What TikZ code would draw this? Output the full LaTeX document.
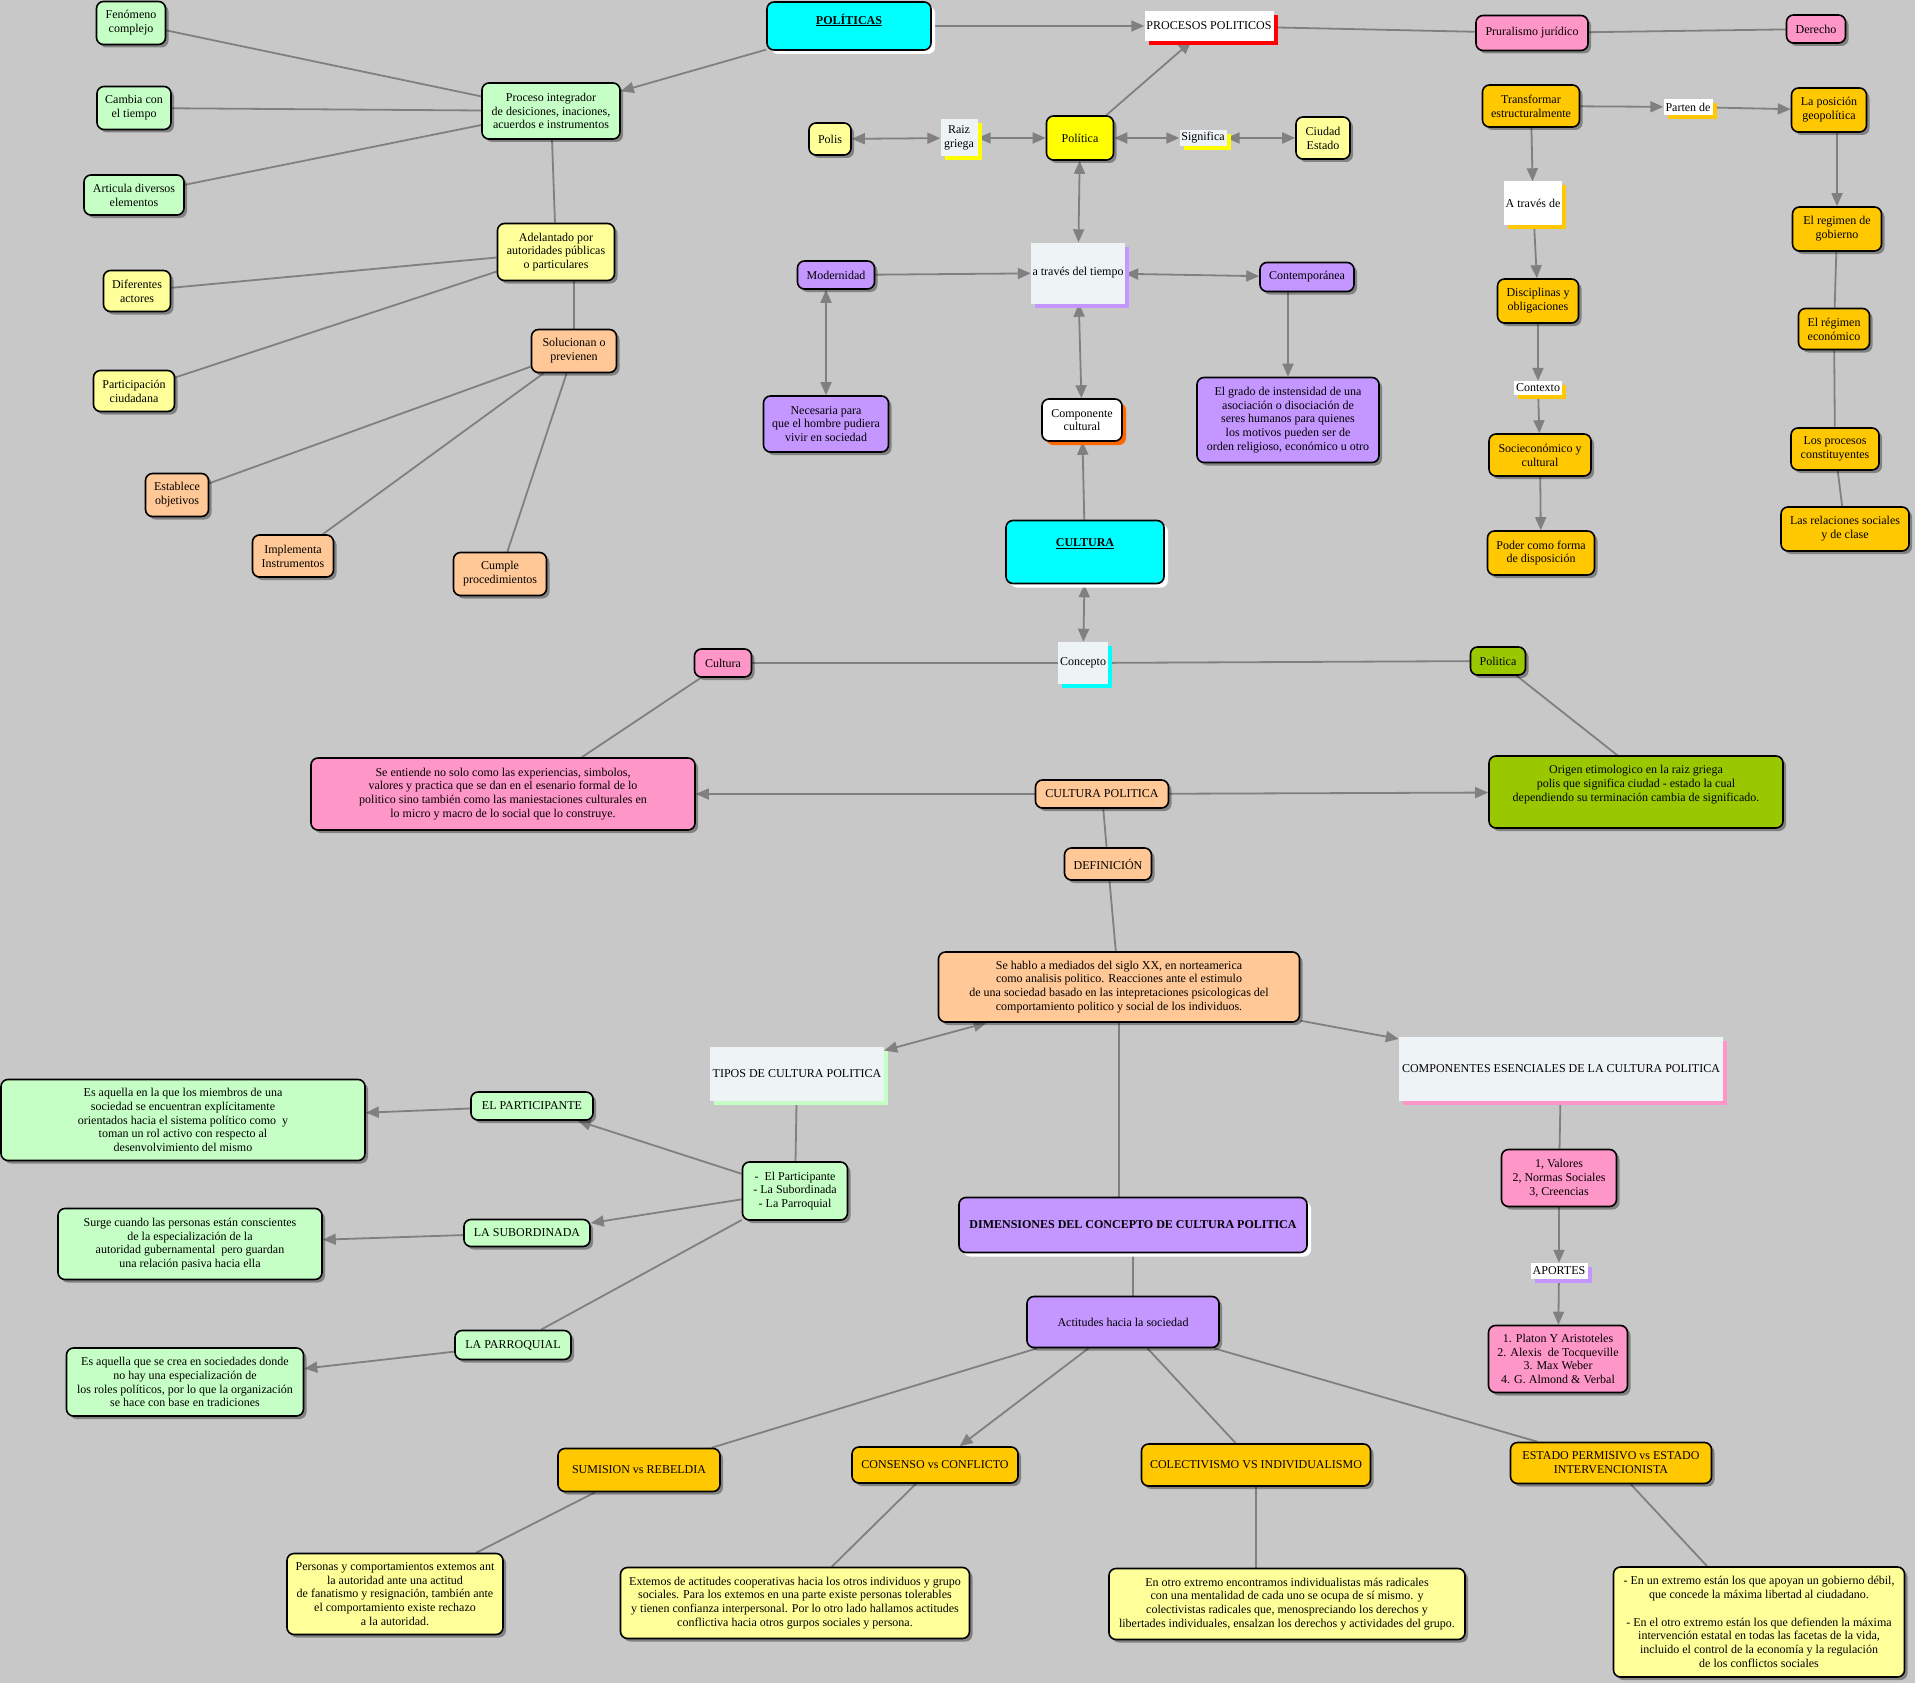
\documentclass[tikz,border=0pt]{standalone}
\usepackage{fontspec}
\setmainfont{Liberation Serif}
\usetikzlibrary{arrows.meta,shadows}
\definecolor{bgc}{RGB}{200,200,200}
\definecolor{lgreen}{RGB}{198,255,198}
\definecolor{lyellow}{RGB}{255,255,153}
\definecolor{peach}{RGB}{255,200,150}
\definecolor{cyanc}{RGB}{0,255,255}
\definecolor{yel}{RGB}{255,255,0}
\definecolor{purp}{RGB}{196,150,255}
\definecolor{pinkc}{RGB}{255,150,200}
\definecolor{gold}{RGB}{255,200,0}
\definecolor{olivec}{RGB}{153,200,0}
\definecolor{labfill}{RGB}{238,244,246}
\definecolor{linegray}{RGB}{128,128,128}
\definecolor{orangesh}{RGB}{255,102,0}
\definecolor{redsh}{RGB}{255,0,0}
\pgfdeclarelayer{bglayer}
\pgfsetlayers{bglayer,main}
\tikzset{
  sz/.style 2 args={minimum width=#1pt, minimum height=#2pt},
  base/.style={draw=black, line width=1.6pt, rounded corners=7pt, align=center, inner sep=2pt, text=black},
  box/.style={base, fill=#1, drop shadow={shadow xshift=3pt, shadow yshift=-3pt, fill=black, opacity=0.35}},
  wbox/.style={base, fill=#1, drop shadow={shadow xshift=4pt, shadow yshift=-4pt, fill=white, opacity=1}},
  cbox/.style 2 args={base, fill=#1, drop shadow={shadow xshift=4pt, shadow yshift=-4pt, fill=#2, opacity=1}},
  lab/.style 2 args={align=center, inner sep=1pt, fill=#1, text=black, drop shadow={shadow xshift=4pt, shadow yshift=-4pt, fill=#2, opacity=1}},
  conn/.style={draw=linegray, line width=1.8pt},
  arr/.style={conn, -{Triangle[length=13pt,width=11pt]}},
  darr/.style={conn, {Triangle[length=13pt,width=11pt]}-{Triangle[length=13pt,width=11pt]}},
}
\begin{document}
\begin{tikzpicture}[x=1pt, y=-1pt, font=\fontsize{12}{13.8}\selectfont]
\useasboundingbox (0,0) rectangle (1915,1683);
\begin{pgfonlayer}{bglayer}
\fill[bgc] (0,0) rectangle (1915,1683);
\end{pgfonlayer}

% ---- upper left: POLITICAS branch
\node[box=lgreen, sz={69}{43}] (fen) at (131,23) {Fenómeno\\complejo};
\node[box=lgreen, sz={74}{43}] (cam) at (134,108) {Cambia con\\el tiempo};
\node[box=lgreen, sz={100}{40}] (art) at (134,195) {Articula diversos\\elementos};
\node[box=lgreen, sz={138}{56}] (proc) at (551,111) {Proceso integrador\\de desiciones, inaciones,\\acuerdos e instrumentos};
\node[box=lyellow, sz={117}{57}] (adel) at (556,252) {Adelantado por\\autoridades públicas\\o particulares};
\node[box=lyellow, sz={67}{41}] (dif) at (137,291) {Diferentes\\actores};
\node[box=lyellow, sz={81}{41}] (part) at (134,391) {Participación\\ciudadana};
\node[box=peach, sz={85}{43}] (sol) at (574,351) {Solucionan o\\previenen};
\node[box=peach, sz={63}{43}] (est) at (177,495) {Establece\\objetivos};
\node[box=peach, sz={81}{42}] (imp) at (293,556) {Implementa\\Instrumentos};
\node[box=peach, sz={93}{43}] (cum) at (500,574) {Cumple\\procedimientos};

% ---- top centre
\node[wbox=cyanc, sz={164}{48}] (pol) at (849,26) {\raisebox{6pt}[\height][\depth]{\underline{\textbf{POLÍTICAS}}}};
\node[lab={white}{redsh}, sz={129}{30}] (procpol) at (1209,26) {PROCESOS POLITICOS};
\node[box=pinkc, sz={112}{35}] (prur) at (1532,33) {Pruralismo jurídico};
\node[box=pinkc, sz={59}{28}] (der) at (1816,29) {Derecho};
\node[box=lyellow, sz={42}{32}] (polis) at (830,139) {Polis};
\node[lab={labfill}{yel}, sz={37}{37}] (raiz) at (959,138) {Raiz\\griega};
\node[box=yel, sz={67}{44}] (politica) at (1080,138) {Política};
\node[lab={labfill}{yel}, sz={47}{16}] (sig) at (1203,138) {Significa};
\node[box=lyellow, sz={54}{42}] (ciudad) at (1323,138) {Ciudad\\Estado};
\node[box=purp, sz={77}{28}] (mod) at (836,275) {Modernidad};
\node[lab={labfill}{purp}, sz={94}{61}] (atrav) at (1078,273) {a través del tiempo};
\node[box=purp, sz={94}{29}] (cont) at (1307,277) {Contemporánea};
\node[box=purp, sz={125}{56}] (nec) at (826,424) {Necesaria para\\que el hombre pudiera\\vivir en sociedad};
\node[cbox={white}{orangesh}, sz={80}{42}] (comp) at (1082,420) {Componente\\cultural};
\node[box=purp, sz={182}{85}] (grado) at (1288,420) {El grado de instensidad de una\\asociación o disociación de\\seres humanos para quienes\\los motivos pueden ser de\\orden religioso, económico u otro};
\node[wbox=cyanc, sz={158}{63}] (cultura) at (1085,552) {\raisebox{8pt}[\height][\depth]{\underline{\textbf{CULTURA}}}};

% ---- upper right
\node[box=gold, sz={97}{42}] (transf) at (1531,106) {Transformar\\estructuralmente};
\node[lab={white}{gold}, sz={49}{16}] (parten) at (1688,107) {Parten de};
\node[box=gold, sz={75}{44}] (posic) at (1829,110) {La posición\\geopolítica};
\node[lab={white}{gold}, sz={58}{43}] (atravesde) at (1533,203) {A través de};
\node[box=gold, sz={89}{44}] (regob) at (1837,229) {El regimen de\\gobierno};
\node[box=gold, sz={81}{44}] (disc) at (1538,301) {Disciplinas y\\obligaciones};
\node[lab={white}{gold}, sz={48}{14}] (contexto) at (1538,388) {Contexto};
\node[box=gold, sz={71}{41}] (reco) at (1834,329) {El régimen\\económico};
\node[box=gold, sz={102}{42}] (socio) at (1540,455) {Socieconómico y\\cultural};
\node[box=gold, sz={88}{42}] (procons) at (1835,449) {Los procesos\\constituyentes};
\node[box=gold, sz={107}{44}] (poder) at (1541,553) {Poder como forma\\de disposición};
\node[box=gold, sz={128}{44}] (rel) at (1845,529) {Las relaciones sociales\\y de clase};

% ---- middle
\node[lab={labfill}{cyanc}, sz={50}{42}] (concepto) at (1083,663) {Concepto};
\node[box=pinkc, sz={57}{28}] (culturap) at (723,663) {Cultura};
\node[box=olivec, sz={55}{28}] (politicag) at (1498,661) {Politica};
\node[box=pinkc, sz={384}{72}] (seent) at (503,794) {Se entiende no solo como las experiencias, simbolos,\\valores y practica que se dan en el esenario formal de lo\\politico sino también como las maniestaciones culturales en\\lo micro y macro de lo social que lo construye.};
\node[box=peach, sz={133}{28}] (cpol) at (1102,794) {CULTURA POLITICA};
\node[box=olivec, sz={294}{72}] (origen) at (1636,792) {\raisebox{7pt}[\height][\depth]{\shortstack{Origen etimologico en la raiz griega\\polis que significa ciudad - estado la cual\\dependiendo su terminación cambia de significado.}}};
\node[box=peach, sz={87}{32}] (defi) at (1108,864) {DEFINICIÓN};
\node[box=peach, sz={361}{70}] (sehablo) at (1119,987) {Se hablo a mediados del siglo XX, en norteamerica\\como analisis politico. Reacciones ante el estimulo\\de una sociedad basado en las intepretaciones psicologicas del\\comportamiento politico y social de los individuos.};
\node[lab={labfill}{lgreen}, sz={174}{54}] (tipos) at (797,1074) {TIPOS DE CULTURA POLITICA};
\node[lab={labfill}{pinkc}, sz={324}{64}] (compon) at (1561,1069) {COMPONENTES ESENCIALES DE LA CULTURA POLITICA};

% ---- lower left
\node[box=lgreen, sz={122}{28}] (elpart) at (532,1106) {EL PARTICIPANTE};
\node[box=lgreen, sz={364}{81}] (esaq) at (183,1120) {Es aquella en la que los miembros de una\\sociedad se encuentran explícitamente\\orientados hacia el sistema político como~ y\\toman un rol activo con respecto al\\desenvolvimiento del mismo};
\node[box=lgreen, sz={105}{58}] (lista) at (795,1191) {-~ El Participante\\- La Subordinada\\- La Parroquial};
\node[box=lgreen, sz={126}{27}] (sub) at (527,1233) {LA SUBORDINADA};
\node[box=lgreen, sz={264}{71}] (surge) at (190,1244) {Surge cuando las personas están conscientes\\de la especialización de la\\autoridad gubernamental~ pero guardan\\una relación pasiva hacia ella};
\node[box=lgreen, sz={116}{29}] (parr) at (513,1345) {LA PARROQUIAL};
\node[box=lgreen, sz={237}{68}] (esaq2) at (185,1382) {Es aquella que se crea en sociedades donde\\no hay una especialización de\\los roles políticos, por lo que la organización\\se hace con base en tradiciones};

% ---- lower centre / right
\node[wbox=purp, sz={348}{55}] (dim) at (1133,1225) {\textbf{DIMENSIONES DEL CONCEPTO DE CULTURA POLITICA}};
\node[box=pinkc, sz={115}{57}] (valores) at (1559,1178) {1, Valores\\2, Normas Sociales\\3, Creencias};
\node[lab={white}{purp}, sz={57}{16}] (aportes) at (1559,1271) {APORTES};
\node[box=pinkc, sz={139}{67}] (platon) at (1558,1359) {1. Platon Y Aristoteles\\2. Alexis~ de Tocqueville\\3. Max Weber\\4. G. Almond \& Verbal};
\node[box=purp, sz={192}{51}] (actit) at (1123,1322) {Actitudes hacia la sociedad};
\node[box=gold, sz={162}{43}] (sumi) at (639,1470) {SUMISION vs REBELDIA};
\node[box=gold, sz={166}{36}] (cons) at (935,1465) {CONSENSO vs CONFLICTO};
\node[box=gold, sz={229}{42}] (colec) at (1256,1465) {COLECTIVISMO VS INDIVIDUALISMO};
\node[box=gold, sz={201}{41}] (estado) at (1611,1463) {ESTADO PERMISIVO vs ESTADO\\INTERVENCIONISTA};
\node[box=lyellow, sz={216}{81}] (personas) at (395,1594) {Personas y comportamientos extemos ant\\la autoridad ante una actitud\\de fanatismo y resignación, también ante\\el comportamiento existe rechazo\\a la autoridad.};
\node[box=lyellow, sz={349}{71}] (extemos) at (795,1603) {Extemos de actitudes cooperativas hacia los otros individuos y grupo\\sociales. Para los extemos en una parte existe personas tolerables\\y tienen confianza interpersonal. Por lo otro lado hallamos actitudes\\conflictiva hacia otros gurpos sociales y persona.};
\node[box=lyellow, sz={356}{71}] (enotro) at (1287,1604) {En otro extremo encontramos individualistas más radicales\\con una mentalidad de cada uno se ocupa de sí mismo. y\\colectivistas radicales que, menospreciando los derechos y\\libertades individuales, ensalzan los derechos y actividades del grupo.};
\node[box=lyellow, sz={291}{110}] (enun) at (1759,1622) {- En un extremo están los que apoyan un gobierno débil,\\que concede la máxima libertad al ciudadano.\\~\\- En el otro extremo están los que defienden la máxima\\intervención estatal en todas las facetas de la vida,\\incluido el control de la economía y la regulación\\de los conflictos sociales};

% ---- connectors
\begin{pgfonlayer}{bglayer}
\draw[arr] (pol) -- (procpol);
\draw[conn] (procpol) -- (prur);
\draw[conn] (prur) -- (der);
\draw[arr] (pol) -- (proc);
\draw[arr] (politica) -- (procpol);
\draw[conn] (fen) -- (proc);
\draw[conn] (cam) -- (proc);
\draw[conn] (art) -- (proc);
\draw[conn] (proc) -- (adel);
\draw[conn] (adel) -- (dif);
\draw[conn] (adel) -- (part);
\draw[conn] (sol.north) -- (sol.north |- adel.south);
\draw[conn] (sol) -- (est);
\draw[conn] (sol) -- (imp);
\draw[conn] (sol) -- (cum);
\draw[darr] (polis) -- (raiz);
\draw[darr] (raiz) -- (politica);
\draw[darr] (politica) -- (sig);
\draw[darr] (sig) -- (ciudad);
\draw[darr] (politica) -- (atrav);
\draw[arr] (mod) -- (atrav);
\draw[darr] (atrav) -- (cont);
\draw[darr] (nec.north |- mod.south) -- (nec.north);
\draw[darr] (atrav) -- (comp);
\draw[arr] (cultura) -- (comp);
\draw[darr] (cultura) -- (concepto);
\draw[arr] (cont.south -| grado.north) -- (grado.north);
\draw[arr] (transf) -- (parten);
\draw[arr] (parten) -- (posic);
\draw[arr] (transf) -- (atravesde);
\draw[arr] (atravesde) -- (disc);
\draw[arr] (disc) -- (contexto);
\draw[arr] (contexto) -- (socio);
\draw[arr] (socio) -- (poder);
\draw[arr] (regob.north |- posic.south) -- (regob.north);
\draw[conn] (regob) -- (reco);
\draw[conn] (reco) -- (procons);
\draw[conn] (procons) -- (rel);
\draw[conn] (concepto) -- (culturap);
\draw[conn] (concepto) -- (politicag);
\draw[conn] (culturap) -- (seent.25);
\draw[conn] (politicag) -- (origen.117);
\draw[arr] (cpol) -- (seent);
\draw[arr] (cpol) -- (origen);
\draw[conn] (cpol) -- (defi);
\draw[conn] (defi) -- (sehablo);
\draw[darr] (sehablo) -- (tipos);
\draw[arr] (sehablo) -- (compon);
\draw[conn] (sehablo.south) -- (sehablo.south |- dim.north);
\draw[conn] (tipos) -- (lista);
\draw[arr] (lista) -- (elpart);
\draw[arr] (elpart) -- (esaq);
\draw[arr] (lista) -- (sub);
\draw[arr] (sub) -- (surge);
\draw[conn] (lista) -- (parr);
\draw[arr] (parr) -- (esaq2);
\draw[conn] (compon) -- (valores);
\draw[arr] (valores) -- (aportes);
\draw[arr] (aportes) -- (platon);
\draw[conn] (dim.south) -- (dim.south |- actit.north);
\draw[conn] (actit) -- (sumi);
\draw[arr] (actit) -- (cons);
\draw[conn] (actit) -- (colec);
\draw[conn] (actit) -- (estado);
\draw[conn] (sumi) -- (personas);
\draw[conn] (cons) -- (extemos);
\draw[conn] (colec.south) -- (colec.south |- enotro.north);
\draw[conn] (estado) -- (enun);
\end{pgfonlayer}
\end{tikzpicture}
\end{document}
